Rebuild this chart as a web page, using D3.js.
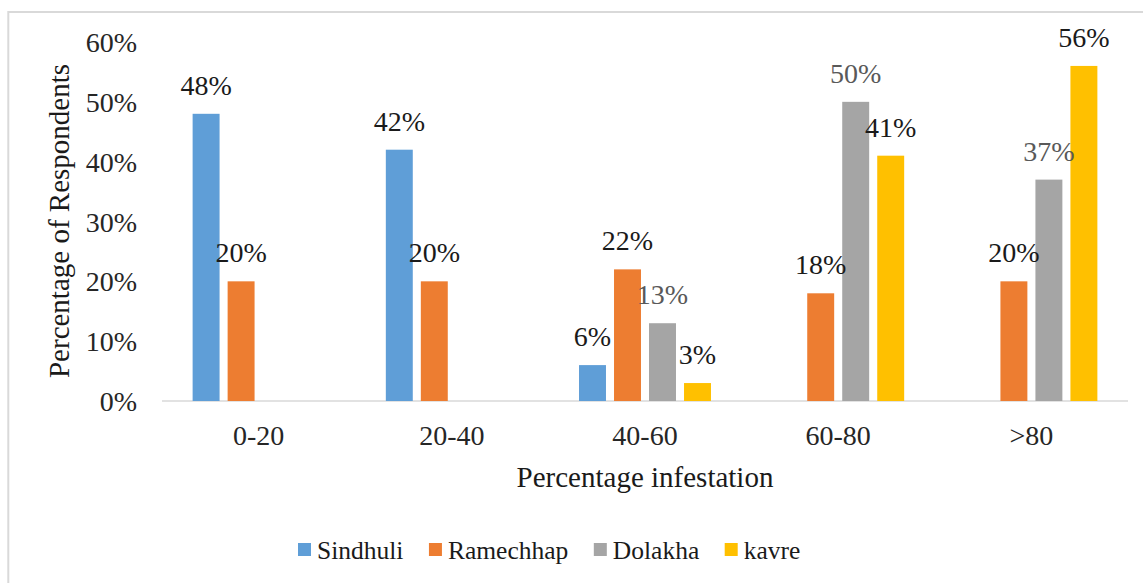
<!DOCTYPE html>
<meta charset="utf-8">
<style>
    body {
        margin: 0;
        background: #fff;
    }
</style>

<body>
    <script src="https://cdn.jsdelivr.net/npm/d3@7"></script>
    <script>
        var categories = ["0-20", "20-40", "40-60", "60-80", ">80"];
        var seriesNames = ["Sindhuli", "Ramechhap", "Dolakha", "kavre"];
        var sindhuli = [48, 42, 6, null, null];
        var ramechhap = [20, 20, 22, 18, 20];
        var dolakha = [null, null, 13, 50, 37];
        var kavre = [null, null, 3, 41, 56];
        var yTicks = [0, 10, 20, 30, 40, 50, 60];
        var colors = ["#5F9ED7", "#ED7D31", "#A5A5A5", "#FFC000"];
        var labelColors = ["#1a1a1a", "#1a1a1a", "#595959", "#1a1a1a"];

        var seriesValues = [sindhuli, ramechhap, dolakha, kavre];

        var width = 1143,
            height = 583,
            serif = "Liberation Serif";

        var svg = d3.select("body").append("svg")
            .attr("width", width)
            .attr("height", height)
            .style("font-family", serif);

        // chart frame runs off the right and bottom of the picture
        svg.append("rect")
            .attr("x", 8.3)
            .attr("y", 12)
            .attr("width", 1300)
            .attr("height", 700)
            .attr("fill", "none")
            .attr("stroke", "#d9d9d9")
            .attr("stroke-width", 2);

        var x0 = d3.scaleBand()
            .domain(categories)
            .range([162, 1128])
            .padding(0);

        var x1 = d3.scaleBand()
            .domain(seriesNames)
            .range([0, x0.bandwidth()])
            .paddingInner(0.23)
            .paddingOuter(0.875);

        var y = d3.scaleLinear()
            .domain([0, 60])
            .range([401, 42]);

        var yAxis = svg.append("g")
            .attr("transform", "translate(137,0)")
            .call(d3.axisLeft(y).tickValues(yTicks).tickSize(0).tickPadding(0)
                .tickFormat(function (d) { return d + "%"; }));
        yAxis.attr("font-family", null).attr("font-size", null);
        yAxis.select(".domain").remove();
        yAxis.selectAll("text")
            .style("font-family", serif)
            .style("font-size", "28px")
            .attr("fill", "#262626")
            .attr("dy", "0.34em");

        svg.append("line")
            .attr("x1", 162)
            .attr("x2", 1128)
            .attr("y1", y(0))
            .attr("y2", y(0))
            .attr("stroke", "#d9d9d9")
            .attr("stroke-width", 1.5);

        var xAxis = svg.append("g")
            .attr("transform", "translate(0," + y(0) + ")")
            .call(d3.axisBottom(x0).tickSize(0).tickPadding(0));
        xAxis.attr("font-family", null).attr("font-size", null);
        xAxis.select(".domain").remove();
        xAxis.selectAll("text")
            .style("font-family", serif)
            .style("font-size", "28px")
            .attr("fill", "#262626")
            .attr("y", 44)
            .attr("dy", 0);

        var data = [];
        seriesNames.forEach(function (s, i) {
            categories.forEach(function (c, j) {
                if (seriesValues[i][j] != null) {
                    data.push({ series: s, index: i, category: c, value: seriesValues[i][j] });
                }
            });
        });

        var bars = svg.append("g");

        bars.selectAll("rect")
            .data(data)
            .enter().append("rect")
            .attr("x", function (d) { return x0(d.category) + x1(d.series); })
            .attr("y", function (d) { return y(d.value); })
            .attr("width", x1.bandwidth())
            .attr("height", function (d) { return y(0) - y(d.value); })
            .attr("fill", function (d) { return colors[d.index]; });

        bars.selectAll("text")
            .data(data)
            .enter().append("text")
            .attr("x", function (d) { return x0(d.category) + x1(d.series) + x1.bandwidth() / 2; })
            .attr("y", function (d) { return y(d.value) - 19; })
            .attr("text-anchor", "middle")
            .style("font-family", serif)
            .style("font-size", "28px")
            .attr("fill", function (d) { return labelColors[d.index]; })
            .text(function (d) { return d.value + "%"; });

        svg.append("text")
            .attr("transform", "translate(69,221) rotate(-90)")
            .attr("text-anchor", "middle")
            .style("font-family", serif)
            .style("font-size", "29px")
            .attr("fill", "#1a1a1a")
            .text("Percentage of Respondents");

        svg.append("text")
            .attr("x", 645)
            .attr("y", 487)
            .attr("text-anchor", "middle")
            .style("font-family", serif)
            .style("font-size", "29px")
            .attr("fill", "#1a1a1a")
            .text("Percentage infestation");

        var legend = svg.append("g");
        var lx = 298;
        seriesNames.forEach(function (s, i) {
            legend.append("rect")
                .attr("x", lx)
                .attr("y", 543)
                .attr("width", 13)
                .attr("height", 13)
                .attr("fill", colors[i]);
            var t = legend.append("text")
                .attr("x", lx + 19)
                .attr("y", 559)
                .style("font-family", serif)
                .style("font-size", "25.5px")
                .attr("fill", "#1a1a1a")
                .text(s);
            lx += 19 + t.node().getComputedTextLength() + 25.5;
        });
    </script>
